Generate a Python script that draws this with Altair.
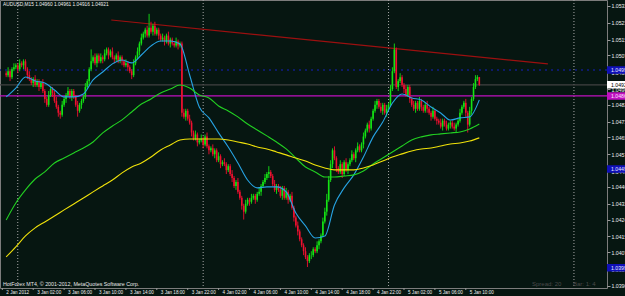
import altair as alt
import pandas as pd

PIP = 0.0001

# ---------------- data (AUDUSD M15, bar 0 = 2 Jan 2012 22:30) ----------------
first_open = 1.0498
close = [
    1.0497, 1.0499, 1.0496, 1.0500, 1.0501, 1.0502, 1.0500, 1.0503, 1.0502, 1.0504,
    1.0500, 1.0497, 1.0495, 1.0493, 1.0495, 1.0492, 1.0494, 1.0491, 1.0493, 1.0489,
    1.0485, 1.0482, 1.0487, 1.0490, 1.0488, 1.0484, 1.0481, 1.0478, 1.0477, 1.0482,
    1.0485, 1.0487, 1.0489, 1.0486, 1.0489, 1.0486, 1.0482, 1.0479, 1.0482, 1.0484,
    1.0486, 1.0491, 1.0494, 1.0500, 1.0504, 1.0506, 1.0503, 1.0507, 1.0504, 1.0506,
    1.0505, 1.0508, 1.0510, 1.0507, 1.0509, 1.0506, 1.0505, 1.0507, 1.0504, 1.0506,
    1.0504, 1.0502, 1.0503, 1.0501, 1.0499, 1.0497, 1.0503, 1.0506, 1.0509, 1.0513,
    1.0516, 1.0518, 1.0520, 1.0517, 1.0521, 1.0519, 1.0522, 1.0518, 1.0520, 1.0517,
    1.0515, 1.0516, 1.0514, 1.0517, 1.0513, 1.0515, 1.0513, 1.0512, 1.0514, 1.0512,
    1.0513, 1.0478, 1.0476, 1.0479, 1.0475, 1.0473, 1.0468, 1.0465, 1.0467, 1.0463,
    1.0464, 1.0465, 1.0462, 1.0466, 1.0461, 1.0459, 1.0460, 1.0457, 1.0459, 1.0454,
    1.0456, 1.0452, 1.0453, 1.0452, 1.0449, 1.0451, 1.0447, 1.0445, 1.0441, 1.0443,
    1.0438, 1.0435, 1.0431, 1.0428, 1.0432, 1.0434, 1.0433, 1.0435, 1.0436, 1.0434,
    1.0437, 1.0438, 1.0441, 1.0443, 1.0445, 1.0447, 1.0448, 1.0446, 1.0442, 1.0439,
    1.0441, 1.0439, 1.0436, 1.0440, 1.0435, 1.0438, 1.0434, 1.0436, 1.0430, 1.0425,
    1.0421, 1.0418, 1.0414, 1.0411, 1.0408, 1.0405, 1.0403, 1.0406, 1.0406, 1.0409,
    1.0408, 1.0411, 1.0413, 1.0416, 1.0423, 1.0428, 1.0434, 1.0444, 1.0452, 1.0459,
    1.0455, 1.0450, 1.0448, 1.0452, 1.0447, 1.0453, 1.0449, 1.0452, 1.0454, 1.0457,
    1.0455, 1.0459, 1.0461, 1.0459, 1.0462, 1.0466, 1.0469, 1.0472, 1.0470, 1.0475,
    1.0479, 1.0482, 1.0484, 1.0481, 1.0479, 1.0482, 1.0478, 1.0480, 1.0482, 1.0490,
    1.0499, 1.0510, 1.0491, 1.0494, 1.0496, 1.0492, 1.0490, 1.0487, 1.0491, 1.0485,
    1.0482, 1.0480, 1.0483, 1.0480, 1.0484, 1.0481, 1.0479, 1.0482, 1.0480, 1.0478,
    1.0476, 1.0479, 1.0475, 1.0474, 1.0473, 1.0471, 1.0474, 1.0472, 1.0470, 1.0472,
    1.0473, 1.0471, 1.0470, 1.0472, 1.0474, 1.0478, 1.0481, 1.0483, 1.0478, 1.0472,
    1.0479, 1.0485, 1.0491, 1.0495, 1.04960, 1.04921,
]
upper_wick_pips = [
    1, 2, 1, 1, 2, 1, 1, 2, 1, 1,
    1, 1, 2, 1, 1, 2, 1, 1, 1, 2,
    1, 1, 2, 1, 1, 1, 2, 1, 1, 2,
    1, 1, 2, 1, 1, 1, 1, 2, 1, 1,
    1, 2, 1, 1, 6, 1, 2, 1, 1, 2,
    1, 2, 1, 1, 1, 2, 1, 1, 2, 1,
    1, 1, 2, 1, 1, 1, 2, 1, 2, 1,
    2, 1, 1, 2, 7, 3, 1, 2, 1, 1,
    1, 2, 1, 1, 2, 1, 1, 1, 2, 1,
    1, 1, 2, 1, 1, 2, 1, 1, 2, 1,
    1, 2, 1, 1, 2, 1, 1, 2, 1, 1,
    2, 1, 1, 2, 1, 1, 1, 2, 1, 1,
    2, 1, 1, 1, 2, 1, 1, 2, 1, 1,
    1, 2, 1, 1, 2, 1, 3, 1, 1, 2,
    1, 1, 2, 1, 1, 2, 1, 1, 2, 1,
    1, 2, 1, 1, 1, 2, 1, 1, 2, 1,
    1, 2, 1, 1, 2, 2, 3, 2, 2, 1,
    2, 1, 1, 2, 1, 1, 2, 1, 1, 2,
    1, 1, 2, 1, 1, 2, 1, 1, 2, 1,
    1, 2, 1, 1, 2, 1, 1, 2, 1, 2,
    2, 3, 1, 1, 2, 1, 1, 2, 1, 1,
    1, 2, 1, 1, 2, 1, 1, 1, 2, 1,
    1, 2, 1, 1, 1, 2, 1, 1, 2, 1,
    1, 1, 2, 1, 1, 2, 1, 1, 2, 1,
    2, 1, 2, 2, 1, 0.1,
]
lower_wick_pips = [
    1, 1, 2, 1, 1, 1, 2, 1, 1, 2,
    1, 2, 1, 1, 2, 1, 1, 2, 1, 1,
    2, 1, 1, 1, 2, 1, 1, 2, 2, 1,
    1, 2, 1, 1, 2, 1, 1, 3, 1, 2,
    1, 1, 1, 2, 1, 1, 1, 2, 1, 1,
    2, 1, 1, 2, 1, 1, 2, 1, 1, 1,
    2, 1, 1, 2, 1, 2, 1, 1, 1, 2,
    1, 1, 2, 1, 1, 1, 2, 1, 1, 2,
    1, 1, 2, 1, 1, 2, 1, 1, 1, 2,
    1, 2, 1, 2, 1, 1, 2, 1, 1, 2,
    1, 1, 2, 1, 1, 2, 1, 1, 2, 1,
    1, 2, 1, 1, 2, 1, 1, 2, 1, 2,
    1, 1, 2, 4, 1, 1, 2, 1, 1, 2,
    1, 1, 2, 1, 1, 1, 2, 1, 1, 1,
    2, 1, 1, 2, 1, 1, 2, 1, 1, 2,
    1, 2, 1, 1, 2, 1, 3, 1, 2, 1,
    1, 1, 2, 1, 1, 1, 2, 1, 1, 2,
    1, 2, 1, 1, 2, 1, 1, 2, 1, 1,
    1, 2, 1, 1, 1, 2, 1, 1, 2, 1,
    1, 1, 2, 1, 1, 2, 1, 2, 1, 1,
    1, 1, 1, 2, 1, 1, 2, 1, 1, 2,
    1, 1, 2, 1, 1, 2, 1, 1, 2, 1,
    2, 1, 1, 2, 1, 1, 2, 1, 1, 1,
    2, 1, 1, 2, 1, 1, 1, 1, 2, 4,
    1, 2, 1, 1, 1, 0.5,
]

# moving averages, sampled every 5 bars
ma_bars = list(range(0, 250, 5))
ma_fast = [
    1.04860, 1.04905, 1.04961, 1.04941, 1.04930, 1.04895, 1.04860, 1.04860, 1.04875, 1.04946,
    1.04986, 1.05027, 1.05047, 1.05032, 1.05072, 1.05118, 1.05143, 1.05143, 1.05128, 1.04971,
    1.04809, 1.04754, 1.04678, 1.04607, 1.04526, 1.04440, 1.04400, 1.04405, 1.04405, 1.04380,
    1.04273, 1.04208, 1.04147, 1.04157, 1.04314, 1.04400, 1.04466, 1.04556, 1.04658, 1.04733,
    1.04829, 1.04875, 1.04855, 1.04845, 1.04809, 1.04779, 1.04743, 1.04754, 1.04759, 1.04845,
]
ma_mid = [
    1.04238, 1.04324, 1.04390, 1.04445, 1.04481, 1.04526, 1.04551, 1.04577, 1.04602, 1.04632,
    1.04678, 1.04713, 1.04744, 1.04784, 1.04824, 1.04850, 1.04880, 1.04900, 1.04920, 1.04905,
    1.04870, 1.04855, 1.04814, 1.04789, 1.04759, 1.04723, 1.04693, 1.04663, 1.04632, 1.04597,
    1.04551, 1.04506, 1.04481, 1.04455, 1.04455, 1.04460, 1.04466, 1.04486, 1.04521, 1.04551,
    1.04582, 1.04612, 1.04642, 1.04658, 1.04668, 1.04673, 1.04678, 1.04683, 1.04698, 1.04723,
]
ma_slow = [
    1.04051, 1.04102, 1.04157, 1.04198, 1.04228, 1.04258, 1.04289, 1.04319, 1.04349, 1.04380,
    1.04410, 1.04440, 1.04476, 1.04506, 1.04526, 1.04556, 1.04592, 1.04617, 1.04642, 1.04647,
    1.04647, 1.04647, 1.04647, 1.04642, 1.04632, 1.04622, 1.04607, 1.04597, 1.04582, 1.04567,
    1.04551, 1.04536, 1.04516, 1.04501, 1.04491, 1.04491, 1.04491, 1.04501, 1.04516, 1.04536,
    1.04556, 1.04572, 1.04587, 1.04597, 1.04602, 1.04612, 1.04622, 1.04627, 1.04637, 1.04653,
]

price_ticks = [1.05320, 1.05235, 1.05150, 1.05070, 1.04985, 1.04900, 1.04820, 1.04735,
               1.04655, 1.04570, 1.04485, 1.04405, 1.04320, 1.04240, 1.04155, 1.04075,
               1.03990, 1.03905]

time_label_bars = [-2, 14, 30, 46, 62, 78, 94, 110, 126, 142, 158, 174, 190, 206, 222, 238]
time_labels = ["2 Jan 2012", "3 Jan 02:00", "3 Jan 06:00", "3 Jan 10:00", "3 Jan 14:00",
               "3 Jan 18:00", "3 Jan 22:00", "4 Jan 02:00", "4 Jan 06:00", "4 Jan 10:00",
               "4 Jan 14:00", "4 Jan 18:00", "4 Jan 22:00", "5 Jan 02:00", "5 Jan 06:00",
               "5 Jan 10:00"]
day_separator_bars = [6, 102, 198, 294]

trend_bars = [54.4, 280.5]
trend_prices = [1.05249, 1.05027]

level_names = ["horizontal", "bid", "alert"]
level_prices = [1.04865, 1.04921, 1.04996]

box_kinds = ["alert", "bid", "horizontal", "alert", "alert"]
box_prices = [1.04996, 1.04921, 1.04865, 1.04496, 1.03996]

header = "AUDUSD,M15  1.04960 1.04961 1.04916 1.04921"
copyright_text = "HotForex MT4, \u00a9 2001-2012, MetaQuotes Software Corp."
spread_text = "Spread: 20"
bar_text = "Bar: 1: 4"

# ---------------- tables ----------------
opens = [first_open] + close[:-1]
rows = []
for i, (o, c) in enumerate(zip(opens, close)):
    top, bot = max(o, c), min(o, c)
    rows.append({"i": i, "open": o, "close": c,
                 "high": top + upper_wick_pips[i] * PIP,
                 "low": bot - lower_wick_pips[i] * PIP,
                 "dir": "up" if c >= o else "down"})
candles = pd.DataFrame(rows)

ma_rows = []
for name, vals in [("fast", ma_fast), ("mid", ma_mid), ("slow", ma_slow)]:
    for b, v in zip(ma_bars, vals):
        ma_rows.append({"bar": b, "ma": v, "series": name})
ma_df = pd.DataFrame(ma_rows)

FONT = "Liberation Sans"
BG = "#061611"

xs = alt.Scale(domain=[-0.61, 308.53], nice=False, zero=False)
ys = alt.Scale(domain=[1.03894, 1.05350], nice=False, zero=False)
y_axis = alt.Axis(orient="right", values=price_ticks, format=".5f", labelColor="#f0f0f0",
                  labelFontSize=5.2, labelFont=FONT, tickColor="#9a9a9a", tickSize=3,
                  domain=False, grid=False, title=None, labelPadding=1,
                  labelOverlap=False, labelBaseline="middle")

def Yp(field):
    return alt.Y(field, type="quantitative", scale=ys, axis=y_axis)

def Xb(field):
    return alt.X(field, type="quantitative", scale=xs, axis=None)

sep = alt.Chart(pd.DataFrame({"bar": day_separator_bars})).mark_rule(
    color="#a8a8a8", strokeDash=[1, 2], strokeWidth=1).encode(x=Xb("bar"))

lvl_df = pd.DataFrame({"name": level_names, "price": level_prices})
levels = alt.Chart(lvl_df).mark_rule().encode(
    y=Yp("price"),
    color=alt.Color("name:N", legend=None, scale=alt.Scale(
        domain=["horizontal", "bid", "alert"], range=["#c010c0", "#424242", "#101c88"])),
    strokeDash=alt.StrokeDash("name:N", legend=None, scale=alt.Scale(
        domain=["horizontal", "bid", "alert"], range=[[1, 0], [1, 0], [2, 4]])),
    strokeWidth=alt.StrokeWidth("name:N", legend=None, scale=alt.Scale(
        domain=["horizontal", "bid", "alert"], range=[1.2, 1.6, 1])),
)

trend = alt.Chart(pd.DataFrame({"b1": [trend_bars[0]], "b2": [trend_bars[1]],
                                "p1": [trend_prices[0]], "p2": [trend_prices[1]]})).mark_rule(
    color="#9c1010", strokeWidth=1.2).encode(x=Xb("b1"), x2="b2", y=Yp("p1"), y2="p2")

candle_color = alt.Color("dir:N", legend=None,
                         scale=alt.Scale(domain=["up", "down"], range=["#14e414", "#f01030"]))
wicks = alt.Chart(candles).mark_rule(strokeWidth=0.9).encode(
    x=Xb("i"), y=Yp("low"), y2="high", color=candle_color)
bodies = alt.Chart(candles).mark_bar(size=1.6).encode(
    x=Xb("i"), y=Yp("open"), y2="close", color=candle_color)

mas = alt.Chart(ma_df).mark_line(strokeWidth=1.1, interpolate="monotone").encode(
    x=Xb("bar"), y=Yp("ma"),
    color=alt.Color("series:N", legend=None, scale=alt.Scale(
        domain=["fast", "mid", "slow"], range=["#27a3e3", "#22d022", "#f0e20a"])),
    detail="series:N",
)

box_df = pd.DataFrame({"kind": box_kinds, "price": box_prices})
boxes = alt.Chart(box_df).transform_calculate(
    lo="datum.price - 0.00019", hi="datum.price + 0.00019").mark_rect().encode(
    x=alt.value(607), x2=alt.value(640), y=Yp("lo:Q"), y2="hi:Q",
    color=alt.Color("kind:N", legend=None, scale=alt.Scale(
        domain=["alert", "bid", "horizontal"], range=["#1010b8", "#ffffff", "#c010c0"])),
)
box_text = alt.Chart(box_df).mark_text(align="left", baseline="middle", fontSize=5.2,
                                       font=FONT).encode(
    x=alt.value(611), y=Yp("price"), text=alt.Text("price:Q", format=".5f"),
    color=alt.Color("kind:N", legend=None, scale=alt.Scale(
        domain=["alert", "bid", "horizontal"], range=["#e8e8ff", "#000000", "#ffe0ff"])),
)

tl_df = pd.DataFrame({"bar": time_label_bars, "label": time_labels})
time_ticks = alt.Chart(tl_df).mark_rule(color="#9a9a9a").encode(
    x=Xb("bar"), y=alt.value(288), y2=alt.value(290))
time_text = alt.Chart(tl_df).mark_text(align="left", baseline="middle", fontSize=4.6,
                                       font=FONT, color="#f0f0f0", dx=4).encode(
    x=Xb("bar"), y=alt.value(292.5), text="label:N")

def label(txt, x, y, size, color):
    return alt.Chart(pd.DataFrame({"t": [txt]})).mark_text(
        align="left", baseline="middle", fontSize=size, font=FONT, color=color).encode(
        x=alt.value(x), y=alt.value(y), text="t:N")

chart = alt.layer(
    sep, levels, trend, wicks, bodies, mas, boxes, box_text, time_ticks, time_text,
    label(header, 3, 5, 4.8, "#f0f0f0"),
    label(copyright_text, 3, 283.5, 5.3, "#e8e8e8"),
    label(spread_text, 532, 283.5, 6, "#4a4a4a"),
    label(bar_text, 573, 283.5, 6, "#4a4a4a"),
).resolve_scale(color="independent", strokeDash="independent", strokeWidth="independent").properties(
    width=607, height=288, background=BG,
    padding={"left": 0, "top": 0, "right": 18, "bottom": 8},
    autosize=alt.AutoSizeParams(type="none"),
).configure_view(stroke="#7c7c7c", strokeWidth=1, fill=BG)

chart.save("out.html", embed_options={"renderer": "svg", "actions": False})
